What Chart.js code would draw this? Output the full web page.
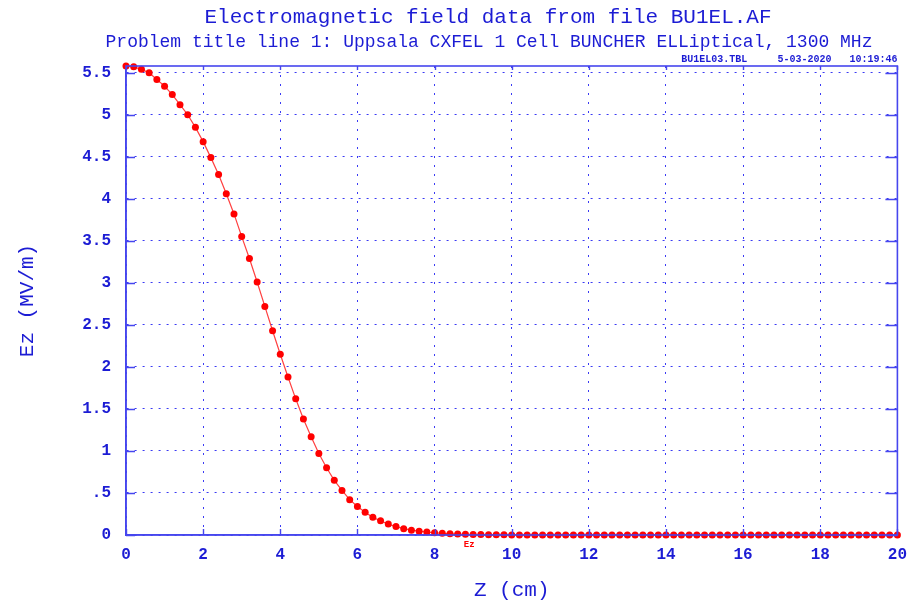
<!DOCTYPE html>
<html>
<head>
<meta charset="utf-8">
<script src="https://cdn.jsdelivr.net/npm/chart.js@4/dist/chart.umd.min.js"></script>
<style>
  html, body { margin: 0; padding: 0; background: #ffffff; }
  #wrap { width: 917px; height: 601px; }
</style>
</head>
<body>
<div id="wrap"><canvas id="c" width="917" height="601"></canvas></div>
<script>
// ---- data ----
const chartTitle = "Electromagnetic field data from file BU1EL.AF";
const chartSubtitle = "Problem title line 1: Uppsala CXFEL 1 Cell BUNCHER ELLiptical, 1300 MHz";
const headerNote = "BU1EL03.TBL     5-03-2020   10:19:46";
const xAxisTitle = "Z (cm)";
const yAxisTitle = "Ez (MV/m)";
const seriesName = "Ez";

const zCm = [
  0.0, 0.2, 0.4, 0.6, 0.8, 1.0, 1.2, 1.4, 1.6, 1.8,
  2.0, 2.2, 2.4, 2.6, 2.8, 3.0, 3.2, 3.4, 3.6, 3.8,
  4.0, 4.2, 4.4, 4.6, 4.8, 5.0, 5.2, 5.4, 5.6, 5.8,
  6.0, 6.2, 6.4, 6.6, 6.8, 7.0, 7.2, 7.4, 7.6, 7.8,
  8.0, 8.2, 8.4, 8.6, 8.8, 9.0, 9.2, 9.4, 9.6, 9.8,
  10.0, 10.2, 10.4, 10.6, 10.8, 11.0, 11.2, 11.4, 11.6, 11.8,
  12.0, 12.2, 12.4, 12.6, 12.8, 13.0, 13.2, 13.4, 13.6, 13.8,
  14.0, 14.2, 14.4, 14.6, 14.8, 15.0, 15.2, 15.4, 15.6, 15.8,
  16.0, 16.2, 16.4, 16.6, 16.8, 17.0, 17.2, 17.4, 17.6, 17.8,
  18.0, 18.2, 18.4, 18.6, 18.8, 19.0, 19.2, 19.4, 19.6, 19.8,
  20.0
];

const ezMVm = [
  5.58, 5.57, 5.54, 5.50, 5.42, 5.34, 5.24, 5.12, 5.00, 4.85,
  4.68, 4.49, 4.29, 4.06, 3.82, 3.55, 3.29, 3.01, 2.72, 2.43,
  2.15, 1.88, 1.62, 1.38, 1.17, 0.97, 0.80, 0.65, 0.53, 0.42,
  0.34, 0.27, 0.21, 0.17, 0.13, 0.10, 0.075, 0.058, 0.045, 0.035,
  0.027, 0.020, 0.015, 0.011, 0.008, 0.006, 0.0045, 0.0033, 0.0024, 0.0018,
  0.0013, 0.0010, 0.0007, 0.0005, 0.0004, 0.0003, 0.0002, 0.0002, 0.0001, 0.0001,
  0.0001, 0, 0, 0, 0, 0, 0, 0, 0, 0,
  0, 0, 0, 0, 0, 0, 0, 0, 0, 0,
  0, 0, 0, 0, 0, 0, 0, 0, 0, 0,
  0, 0, 0, 0, 0, 0, 0, 0, 0, 0,
  0
];

const xTickValues = [0, 2, 4, 6, 8, 10, 12, 14, 16, 18, 20];
const yTickValues = [0, 0.5, 1, 1.5, 2, 2.5, 3, 3.5, 4, 4.5, 5, 5.5];
const yAxisMax = 5.58;
const seriesLabelAtZ = 8.9;

// ---- styling ----
const TEXT_BLUE = "#1c1cd4";
const AXIS_BLUE = "#4646ee";
const GRID_BLUE = "#3a3af4";
const RED = "#ff0000";
const MONO = "'Liberation Mono', 'DejaVu Sans Mono', monospace";

const points = zCm.map((z, i) => ({ x: z, y: ezMVm[i] }));

function fmtY(v) {
  let s = String(Math.round(v * 100) / 100);
  if (s.startsWith("0.")) s = s.slice(1);
  return s;
}

const framePlugin = {
  id: "frame",
  afterDraw(chart) {
    const ctx = chart.ctx;
    const a = chart.chartArea;
    const xs = chart.scales.x, ys = chart.scales.y;
    ctx.save();
    ctx.strokeStyle = AXIS_BLUE;
    ctx.lineWidth = 1.6;
    ctx.strokeRect(a.left, a.top, a.right - a.left, a.bottom - a.top);
    ctx.lineWidth = 1.4;
    ctx.beginPath();
    yTickValues.forEach(v => {
      const p = Math.round(ys.getPixelForValue(v)) + 0.5;
      ctx.moveTo(a.left, p); ctx.lineTo(a.left + 9, p);
      ctx.moveTo(a.right, p); ctx.lineTo(a.right - 12, p);
    });
    xTickValues.forEach(v => {
      const p = Math.round(xs.getPixelForValue(v)) + 0.5;
      ctx.moveTo(p, a.bottom); ctx.lineTo(p, a.bottom - 6);
      ctx.moveTo(p, a.top); ctx.lineTo(p, a.top + 4);
    });
    ctx.stroke();
    ctx.restore();
  }
};

const textPlugin = {
  id: "texts",
  afterDatasetsDraw(chart) {
    const ctx = chart.ctx;
    const a = chart.chartArea;
    const xs = chart.scales.x;
    ctx.save();
    ctx.fillStyle = TEXT_BLUE;
    ctx.textBaseline = "middle";
    ctx.textAlign = "center";
    ctx.font = "21px " + MONO;
    ctx.fillText(chartTitle, 488, 17);
    ctx.font = "18px " + MONO;
    ctx.fillText(chartSubtitle, 489, 42);
    ctx.font = "bold 10px " + MONO;
    ctx.textAlign = "right";
    ctx.fillText(headerNote, a.right, 59);
    ctx.fillStyle = RED;
    ctx.font = "bold 9px " + MONO;
    ctx.textAlign = "center";
    ctx.fillText(seriesName, xs.getPixelForValue(seriesLabelAtZ), a.bottom + 10);
    ctx.restore();
  }
};

new Chart(document.getElementById("c"), {
  type: "line",
  data: {
    datasets: [{
      label: seriesName,
      data: points,
      borderColor: "#ff4040",
      borderWidth: 1.2,
      backgroundColor: RED,
      pointBackgroundColor: RED,
      pointBorderColor: RED,
      pointBorderWidth: 0,
      pointRadius: 3.5,
      fill: false,
      tension: 0,
      clip: false
    }]
  },
  options: {
    responsive: false,
    animation: false,
    devicePixelRatio: 1,
    layout: { padding: { top: 66, right: 19, bottom: 0, left: 0 } },
    plugins: {
      legend: { display: false },
      title: { display: false },
      tooltip: { enabled: false }
    },
    scales: {
      x: {
        type: "linear",
        min: 0,
        max: 20,
        afterBuildTicks(scale) { scale.ticks = xTickValues.map(v => ({ value: v })); },
        afterFit(scale) { scale.height = 66; },
        ticks: {
          color: TEXT_BLUE,
          font: { family: MONO, size: 16, weight: "bold" },
          padding: 10,
          maxRotation: 0,
          callback: v => String(v)
        },
        grid: {
          color: GRID_BLUE,
          lineWidth: 1,
          drawTicks: false
        },
        border: { display: true, color: AXIS_BLUE, width: 1.6, dash: [2, 7] },
        title: {
          display: true,
          text: xAxisTitle,
          color: TEXT_BLUE,
          font: { family: MONO, size: 21, lineHeight: 1 },
          padding: { top: 0, bottom: 0 }
        }
      },
      y: {
        type: "linear",
        min: 0,
        max: yAxisMax,
        afterBuildTicks(scale) { scale.ticks = yTickValues.map(v => ({ value: v })); },
        afterFit(scale) { scale.width = 126; },
        ticks: {
          color: TEXT_BLUE,
          font: { family: MONO, size: 16, weight: "bold" },
          padding: 15,
          callback: v => fmtY(v)
        },
        grid: {
          color: GRID_BLUE,
          lineWidth: 1,
          drawTicks: false
        },
        border: { display: true, color: AXIS_BLUE, width: 1.6, dash: [2, 6] },
        title: {
          display: true,
          text: yAxisTitle,
          color: TEXT_BLUE,
          font: { family: MONO, size: 21, lineHeight: 1 },
          padding: { top: 17, bottom: 0 }
        }
      }
    }
  },
  plugins: [framePlugin, textPlugin]
});
</script>
</body>
</html>
